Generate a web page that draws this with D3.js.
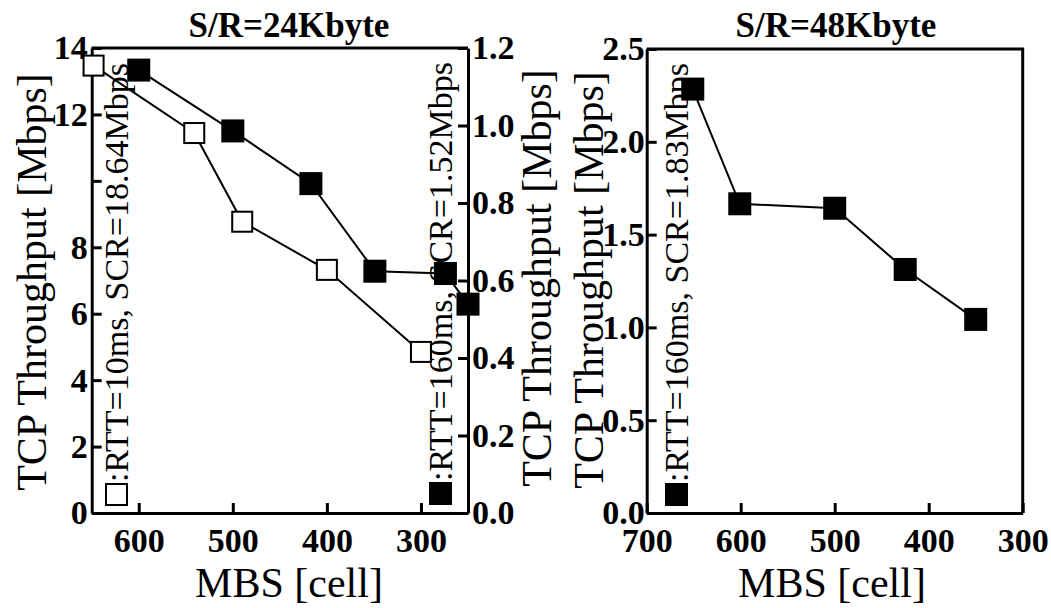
<!DOCTYPE html>
<html>
<head>
<meta charset="utf-8">
<script src="https://cdn.jsdelivr.net/npm/d3@7"></script>
<style>
    body { margin: 0; background: #fff; }
    svg { font-family: "Liberation Serif", "Times New Roman", serif; }
    .axis path, .axis line { stroke: #000; stroke-width: 3; }
    .axis text { font-size: 34px; font-weight: bold; fill: #000; font-family: "Liberation Serif", serif; }
    .series { fill: none; stroke: #000; stroke-width: 2; }
</style>
</head>
<body>
<script>
    // left panel, S/R=24Kbyte
    var mbs10 = [648, 541, 490, 400, 300];
    var thr10 = [13.47, 11.44, 8.77, 7.32, 4.85];
    var mbs160 = [600, 500, 417, 349, 274, 250];
    var thr160 = [1.143, 0.986, 0.850, 0.624, 0.618, 0.539];
    var leftTicks = [0, 2, 4, 6, 8, 10, 12, 14];
    var leftTickLabels = ["0", "2", "4", "6", "8", "", "12", "14"];
    var rightTicks = [0, 0.2, 0.4, 0.6, 0.8, 1.0, 1.2];
    var mbsTicks1 = [600, 500, 400, 300];

    // right panel, S/R=48Kbyte
    var mbs48 = [651, 601, 500, 425, 350];
    var thr48 = [2.284, 1.666, 1.642, 1.312, 1.043];
    var ticks48 = [0, 0.5, 1.0, 1.5, 2.0, 2.5];
    var mbsTicks2 = [700, 600, 500, 400, 300];

    var titles = ["S/R=24Kbyte", "S/R=48Kbyte"];
    var legend10 = ":RTT=10ms, SCR=18.64Mbps";
    var legend160a = ":RTT=160ms, SCR=1.52Mbps";
    var legend160b = ":RTT=160ms, SCR=1.83Mbps";

    var svg = d3.select('body').append('svg')
        .attr('width', 1051).attr('height', 608);

    function pts(xs, ys) { return xs.map(function(x, i) { return [x, ys[i]]; }); }

    function yLabel(x, y) {
        svg.append('text')
            .attr('transform', 'translate(' + x + ',' + y + ') rotate(-90)')
            .attr('text-anchor', 'middle')
            .style('font-size', '42px')
            .text('TCP Throughput [Mbps]');
    }

    function legend(bx, by, filled, label) {
        svg.append('rect')
            .attr('x', bx - 22).attr('y', by).attr('width', 21).attr('height', 21)
            .attr('fill', filled ? '#000' : '#fff')
            .attr('stroke', '#000').attr('stroke-width', 2);
        svg.append('text')
            .attr('transform', 'translate(' + bx + ',' + (by - 2) + ') rotate(-90)')
            .style('font-size', '34px')
            .text(label);
    }

    function drawSeries(data, x, y, filled) {
        var line = d3.line().x(function(d) { return x(d[0]); }).y(function(d) { return y(d[1]); });
        svg.append('path').datum(data).attr('class', 'series').attr('d', line);
        var s = filled ? 23 : 20;
        svg.selectAll(null).data(data).enter().append('rect')
            .attr('x', function(d) { return x(d[0]) - s / 2; })
            .attr('y', function(d) { return y(d[1]) - s / 2; })
            .attr('width', s).attr('height', s)
            .attr('fill', filled ? '#000' : '#fff')
            .attr('stroke', '#000').attr('stroke-width', filled ? 0 : 2);
    }

    // ---------- panel 1 ----------
    var p1 = { l: 91.7, r: 468, t: 48, b: 513 };
    var x1 = d3.scaleLinear().domain([650, 250]).range([p1.l, p1.r]);
    var yL = d3.scaleLinear().domain([0, 14]).range([p1.b, p1.t]);
    var yR = d3.scaleLinear().domain([0, 1.2]).range([p1.b, p1.t]);

    svg.append('line').attr('x1', p1.l).attr('x2', p1.r).attr('y1', p1.t).attr('y2', p1.t)
        .attr('stroke', '#000').attr('stroke-width', 3);

    svg.append('g').attr('class', 'axis').attr('transform', 'translate(0,' + p1.b + ')')
        .call(d3.axisBottom(x1).tickValues(mbsTicks1).tickSizeInner(-10).tickSizeOuter(0).tickPadding(15));
    svg.append('g').attr('class', 'axis').attr('transform', 'translate(' + p1.l + ',0)')
        .call(d3.axisLeft(yL).tickValues(leftTicks).tickSizeInner(-10).tickSizeOuter(0).tickPadding(4)
            .tickFormat(function(d, i) { return leftTickLabels[i]; }));
    svg.append('g').attr('class', 'axis').attr('transform', 'translate(' + p1.r + ',0)')
        .call(d3.axisRight(yR).tickValues(rightTicks).tickSizeInner(-10).tickSizeOuter(0).tickPadding(4)
            .tickFormat(d3.format('.1f')));

    drawSeries(pts(mbs10, thr10), x1, yL, false);
    drawSeries(pts(mbs160, thr160), x1, yR, true);

    legend(128, 484, false, legend10);
    legend(452, 483, true, legend160a);

    svg.append('text').attr('x', 289).attr('y', 37).attr('text-anchor', 'middle')
        .style('font-size', '35px').style('font-weight', 'bold').text(titles[0]);
    svg.append('text').attr('x', 289).attr('y', 597).attr('text-anchor', 'middle')
        .style('font-size', '42px').text('MBS [cell]');
    yLabel(46, 282);
    yLabel(551, 278);

    // ---------- panel 2 ----------
    var p2 = { l: 646.7, r: 1022.7, t: 49, b: 513 };
    var x2 = d3.scaleLinear().domain([700, 300]).range([p2.l, p2.r]);
    var y2 = d3.scaleLinear().domain([0, 2.5]).range([p2.b, p2.t]);

    svg.append('path')
        .attr('d', 'M' + p2.l + ',' + p2.t + 'H' + p2.r + 'V' + p2.b)
        .attr('fill', 'none').attr('stroke', '#000').attr('stroke-width', 3);

    svg.append('g').attr('class', 'axis').attr('transform', 'translate(0,' + p2.b + ')')
        .call(d3.axisBottom(x2).tickValues(mbsTicks2).tickSizeInner(-10).tickSizeOuter(0).tickPadding(15));
    svg.append('g').attr('class', 'axis').attr('transform', 'translate(' + p2.l + ',0)')
        .call(d3.axisLeft(y2).tickValues(ticks48).tickSizeInner(-10).tickSizeOuter(0).tickPadding(2)
            .tickFormat(d3.format('.1f')));

    drawSeries(pts(mbs48, thr48), x2, y2, true);
    legend(688, 484, true, legend160b);

    svg.append('text').attr('x', 836).attr('y', 37).attr('text-anchor', 'middle')
        .style('font-size', '35px').style('font-weight', 'bold').text(titles[1]);
    svg.append('text').attr('x', 832).attr('y', 597).attr('text-anchor', 'middle')
        .style('font-size', '42px').text('MBS [cell]');
    yLabel(603, 280);
</script>
</body>
</html>
